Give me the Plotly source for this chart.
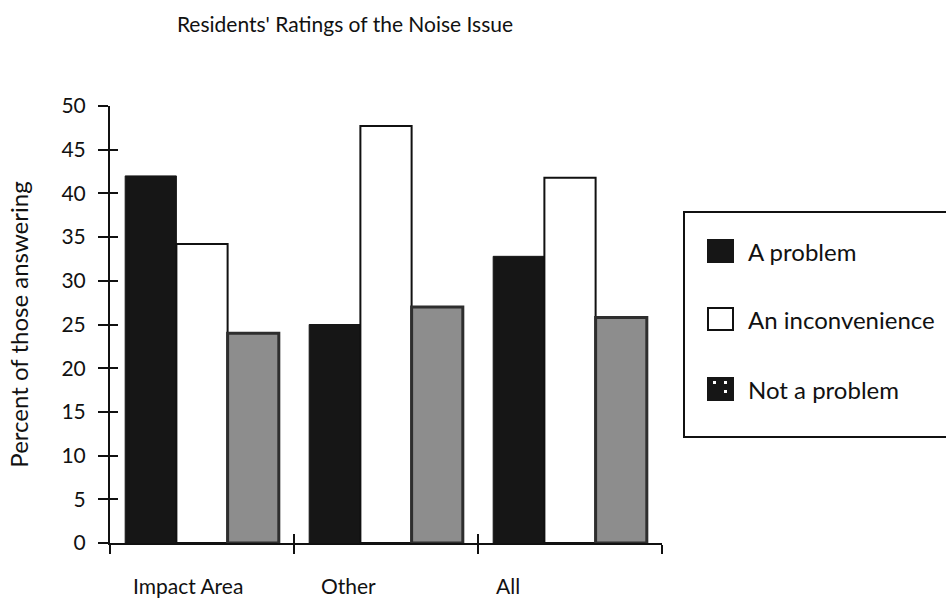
import plotly.graph_objects as go

# data
categories = ["Impact Area", "Other", "All"]
a_problem = [42.0, 25.0, 32.8]
an_inconvenience = [34.2, 47.7, 41.8]
not_a_problem = [24.0, 27.0, 25.8]
series_names = ["A problem", "An inconvenience", "Not a problem"]
y_ticks = [0, 5, 10, 15, 20, 25, 30, 35, 40, 45, 50]

W, H = 946, 600
FONT = "Lato"
L, R, T, B = 110, 284, 106, 57


def px(x):
    # pixel -> paper x
    return (x - L) / (W - L - R)


def py(y):
    # pixel -> paper y
    return (H - B - y) / (H - T - B)


fig = go.Figure()

fig.add_trace(go.Bar(x=categories, y=a_problem, name=series_names[0],
                     marker=dict(color="#161616", line=dict(color="#161616", width=1))))
fig.add_trace(go.Bar(x=categories, y=an_inconvenience, name=series_names[1],
                     marker=dict(color="white", line=dict(color="#111111", width=2))))
fig.add_trace(go.Bar(x=categories, y=not_a_problem, name=series_names[2],
                     marker=dict(color="#8d8d8d", line=dict(color="#2e2e2e", width=3))))

# invisible trace so the overlay axes (ticks crossing the axis lines) get drawn
fig.add_trace(go.Scatter(x=categories, y=[0, 0, 0], xaxis="x2", yaxis="y2",
                         mode="markers", marker=dict(opacity=0), hoverinfo="skip",
                         showlegend=False))

fig.update_layout(
    width=W, height=H,
    paper_bgcolor="white", plot_bgcolor="white",
    barmode="group", bargap=0.165, bargroupgap=0,
    showlegend=False,
    margin=dict(l=L, r=R, t=T, b=B),
    font=dict(family=FONT, color="#111111", size=18),
    title=dict(text="Residents' Ratings of the Noise Issue", xref="container",
               x=345 / W, xanchor="center",
               y=1 - 25 / H, yanchor="middle", font=dict(size=21, family=FONT)),
    xaxis=dict(type="category", categoryarray=categories, range=[-0.5, 2.5],
               showline=True, linecolor="#111111", linewidth=2,
               ticks="outside", ticklen=9, tickwidth=2, tickcolor="#111111",
               tickson="boundaries", showgrid=False, zeroline=False,
               showticklabels=False, fixedrange=True),
    yaxis=dict(range=[0, 50], tickvals=y_ticks, showline=True, linecolor="#111111",
               linewidth=2, ticks="outside", ticklen=10, tickwidth=2, tickcolor="#111111",
               ticklabelstandoff=8,
               showgrid=False, zeroline=False, tickfont=dict(size=21),
               title=dict(text="Percent of those answering", standoff=26,
                          font=dict(size=24))),
    xaxis2=dict(type="category", categoryarray=categories, range=[-0.5, 2.5],
                overlaying="x", anchor="y2", ticks="inside", ticklen=9, tickwidth=2,
                tickcolor="#111111", tickson="boundaries", showticklabels=False,
                showgrid=False, zeroline=False, showline=False),
    yaxis2=dict(range=[0, 50], tickvals=y_ticks, overlaying="y", anchor="x2",
                ticks="inside", ticklen=8, tickwidth=2, tickcolor="#111111",
                showticklabels=False, showgrid=False, zeroline=False, showline=False),
)

# category labels sit a little left of the group centres in the original
label_shift = [-14, -38, -62]
for cat, dx in zip(categories, label_shift):
    fig.add_annotation(text=cat, x=cat, xref="x", y=py(585), yref="paper",
                       xshift=dx, yanchor="middle", showarrow=False,
                       font=dict(size=21, family=FONT))

# hand drawn legend box, as in the original
shapes = [dict(type="rect", xref="paper", yref="paper",
               x0=px(684), x1=px(952), y0=py(437), y1=py(212),
               line=dict(color="#111111", width=2), fillcolor="white", layer="above")]
swatches = [("#161616", "#161616"), ("white", "#111111"), ("#161616", "#161616")]
rows = [251, 319, 389]
for (fill, edge), yc, name in zip(swatches, rows, series_names):
    shapes.append(dict(type="rect", xref="paper", yref="paper",
                       x0=px(708), x1=px(733), y0=py(yc + 11), y1=py(yc - 11),
                       line=dict(color=edge, width=2), fillcolor=fill, layer="above"))
    fig.add_annotation(text=name, xref="paper", yref="paper", x=px(746), y=py(yc),
                       xanchor="left", yanchor="middle", showarrow=False,
                       font=dict(size=24, family=FONT))
# the little white specks in the last swatch
for dx, dy in [(713, 381), (724, 381), (724, 390)]:
    shapes.append(dict(type="rect", xref="paper", yref="paper",
                       x0=px(dx), x1=px(dx + 3), y0=py(dy + 3), y1=py(dy),
                       line=dict(width=0), fillcolor="white", layer="above"))
fig.update_layout(shapes=shapes)

# drop the default page margin so the figure starts at the window corner
fig.write_html("out.html", config={"displayModeBar": False},
               post_script="document.body.style.margin='0';")
